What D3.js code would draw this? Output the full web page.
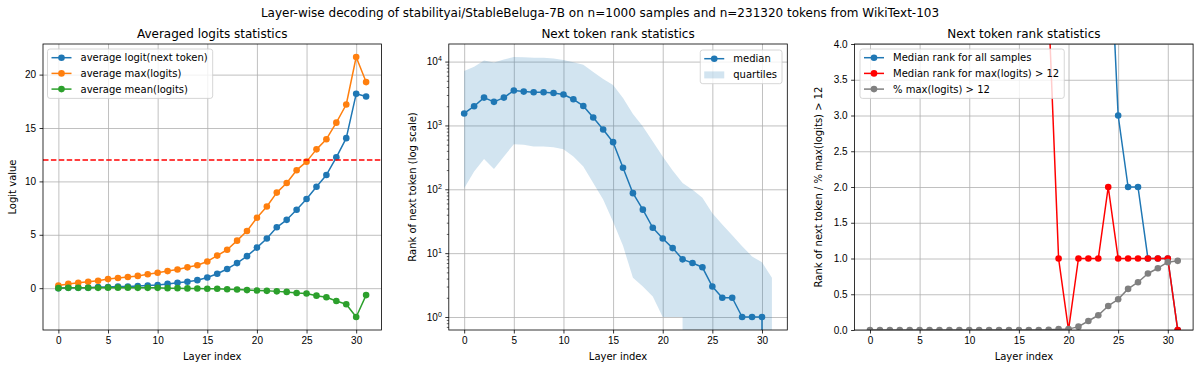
<!DOCTYPE html>
<html>
<head>
<meta charset="utf-8">
<script src="https://cdn.jsdelivr.net/npm/d3@7"></script>
<style>
    body { margin: 0; background: #fff; }
    svg { font-family: "DejaVu Sans", sans-serif; }
</style>
</head>
<body>
<div id="chart"></div>
<script>
// layer indices 0..31
const layers = d3.range(32);
const xTicks = [0, 5, 10, 15, 20, 25, 30];

// left panel: averaged logits
const avgLogitNext = [0.0, 0.05, 0.05, 0.05, 0.1, 0.1, 0.15, 0.15, 0.2, 0.25, 0.3, 0.4, 0.5, 0.6, 0.75, 1.0,
    1.35, 1.8, 2.35, 3.0, 3.8, 4.65, 5.7, 6.4, 7.35, 8.35, 9.5, 10.6, 12.25, 14.05, 18.2, 17.95];
const avgMaxLogits = [0.25, 0.4, 0.5, 0.6, 0.7, 0.85, 0.95, 1.05, 1.15, 1.3, 1.45, 1.6, 1.75, 1.95, 2.15, 2.5,
    3.05, 3.6, 4.45, 5.35, 6.6, 7.65, 8.95, 9.85, 11.05, 11.85, 13.0, 13.95, 15.5, 17.2, 21.65, 19.3];
const avgMeanLogits = [0.0, 0.03, 0.03, 0.03, 0.03, 0.05, 0.05, 0.05, 0.03, 0.03, 0.03, 0.0, 0.0, -0.02, -0.03, -0.05,
    -0.05, -0.1, -0.12, -0.18, -0.22, -0.25, -0.3, -0.35, -0.45, -0.5, -0.7, -0.85, -1.2, -1.5, -2.7, -0.65];
const logitThreshold = 12;
const leftYTicks = [0, 5, 10, 15, 20];

// middle panel: rank of next token
const medianRank = [1540, 2000, 2730, 2340, 2730, 3520, 3390, 3310, 3310, 3230, 3050, 2570, 2020, 1330, 863, 547,
    217, 87, 48, 25, 17, 12, 8, 7, 6, 3, 2, 2, 1, 1, 1, 0];
const rankQ1 = [104, 190, 298, 207, 327, 509, 500, 468, 468, 457, 425, 327, 228, 125, 69, 31,
    13, 4.1, 3, 2.1, 1, 1, 1, 0, 0, 0, 0, 0, 0, 0, 0, 0];
const rankQ3 = [7140, 8330, 10400, 9650, 10800, 11800, 11700, 11500, 11500, 11200, 10600, 9770, 8900, 6900, 5350, 4310,
    2680, 1510, 960, 560, 327, 197, 125, 98, 74, 42, 28, 19, 12.8, 8.9, 7.2, 4.1];
const midYTicks = [1, 10, 100, 1000, 10000];

// right panel: above-threshold stats
const medianRankAboveThr = [null, null, null, null, null, null, null, null, null, null, null, null, null, null, null, null,
    null, null, 4.5, 1, 0, 1, 1, 1, 2, 1, 1, 1, 1, 1, 1, 0];
const fracAboveThr = [0, 0, 0, 0, 0, 0, 0, 0, 0, 0, 0, 0, 0, 0, 0, 0,
    0, 0, 0.002, 0.012, 0.012, 0.047, 0.126, 0.206, 0.336, 0.43, 0.575, 0.668, 0.79, 0.864, 0.949, 0.967];
const rightYTicks = [0, 0.5, 1, 1.5, 2, 2.5, 3, 3.5, 4];

const colors = {
    blue: '#1f77b4',
    orange: '#ff7f0e',
    green: '#2ca02c',
    red: '#ff0000',
    gray: '#808080'
};

const W = 1200, H = 370;
const plot = { top: 44, bottom: 330, width: 338.5 };
const lefts = [43, 448.8, 854.6];

const svg = d3.select('#chart').append('svg')
    .attr('width', W)
    .attr('height', H);

// suptitle
svg.append('text')
    .attr('x', 600).attr('y', 17)
    .attr('text-anchor', 'middle')
    .attr('font-size', 12)
    .text('Layer-wise decoding of stabilityai/StableBeluga-7B on n=1000 samples and n=231320 tokens from WikiText-103');

function makeX(left) {
    const pad = 31 * 0.05;
    return d3.scaleLinear().domain([-pad, 31 + pad]).range([left, left + plot.width]);
}

function panel(idx, title, yScale, yTicks, yFmt, yLabel, labelX) {
    const left = lefts[idx];
    const x = makeX(left);
    const g = svg.append('g');

    g.append('clipPath').attr('id', `clip${idx}`)
        .append('rect')
        .attr('x', left).attr('y', plot.top)
        .attr('width', plot.width).attr('height', plot.bottom - plot.top);

    // grid
    g.append('g')
        .attr('transform', `translate(0,${plot.bottom})`)
        .call(d3.axisBottom(x).tickValues(xTicks).tickSize(-(plot.bottom - plot.top)).tickFormat(''))
        .call(s => s.select('.domain').remove())
        .call(s => s.selectAll('line').attr('stroke', '#b0b0b0').attr('stroke-width', 0.8));
    g.append('g')
        .attr('transform', `translate(${left},0)`)
        .call(d3.axisLeft(yScale).tickValues(yTicks).tickSize(-plot.width).tickFormat(''))
        .call(s => s.select('.domain').remove())
        .call(s => s.selectAll('line').attr('stroke', '#b0b0b0').attr('stroke-width', 0.8));

    // x axis
    g.append('g')
        .attr('transform', `translate(0,${plot.bottom})`)
        .call(d3.axisBottom(x).tickValues(xTicks).tickSize(3.5).tickPadding(3.5).tickFormat(d3.format('d')))
        .call(s => s.select('.domain').remove())
        .call(s => s.selectAll('line').attr('stroke', '#000').attr('stroke-width', 0.8))
        .call(s => s.selectAll('text').attr('font-size', 10).attr('fill', '#000').attr('font-family', null));

    // y axis
    const yAxisG = g.append('g')
        .attr('transform', `translate(${left},0)`)
        .call(d3.axisLeft(yScale).tickValues(yTicks).tickSize(3.5).tickPadding(3.5).tickFormat(yFmt))
        .call(s => s.select('.domain').remove())
        .call(s => s.selectAll('line').attr('stroke', '#000').attr('stroke-width', 0.8))
        .call(s => s.selectAll('text').attr('font-size', 10).attr('fill', '#000').attr('font-family', null));

    // labels
    g.append('text')
        .attr('x', left + plot.width / 2).attr('y', 360)
        .attr('text-anchor', 'middle').attr('font-size', 10)
        .text('Layer index');
    g.append('text')
        .attr('transform', `translate(${labelX},${(plot.top + plot.bottom) / 2}) rotate(-90)`)
        .attr('text-anchor', 'middle').attr('font-size', 10)
        .text(yLabel);
    g.append('text')
        .attr('x', left + plot.width / 2).attr('y', 38)
        .attr('text-anchor', 'middle').attr('font-size', 12)
        .text(title);

    const data = g.append('g').attr('clip-path', `url(#clip${idx})`);
    return { g, x, data, yAxisG, left };
}

function series(p, values, yFn, color) {
    const line = d3.line()
        .defined(i => values[i] != null)
        .x(i => p.x(i))
        .y(i => yFn(values[i]));
    const s = p.data.append('g');
    s.append('path')
        .attr('d', line(layers))
        .attr('fill', 'none')
        .attr('stroke', color)
        .attr('stroke-width', 1.5)
        .attr('stroke-linejoin', 'round');
    s.selectAll('circle')
        .data(layers.filter(i => values[i] != null))
        .enter().append('circle')
        .attr('cx', i => p.x(i))
        .attr('cy', i => yFn(values[i]))
        .attr('r', 3.3)
        .attr('fill', color);
}

function frame(p) {
    p.g.append('rect')
        .attr('x', p.left).attr('y', plot.top)
        .attr('width', plot.width).attr('height', plot.bottom - plot.top)
        .attr('fill', 'none').attr('stroke', '#000').attr('stroke-width', 0.8);
}

function legend(p, bx, by, items, alignRight) {
    const lg = p.g.append('g');
    const box = lg.append('rect');
    const rowH = 15.7;
    let maxW = 0;
    const rows = items.map((it, i) => {
        const cy = by + 8.7 + i * rowH;
        const row = lg.append('g');
        const t = row.append('text')
            .attr('x', 33).attr('y', cy).attr('dy', '0.35em')
            .attr('font-size', 10)
            .text(it.label);
        maxW = Math.max(maxW, t.node().getComputedTextLength());
        if (it.patch) {
            row.append('rect')
                .attr('x', 4).attr('y', cy - 3).attr('width', 20).attr('height', 7)
                .attr('fill', it.color).attr('fill-opacity', 0.2);
        } else {
            row.append('line')
                .attr('x1', 4).attr('x2', 24).attr('y1', cy).attr('y2', cy)
                .attr('stroke', it.color).attr('stroke-width', 1.5);
            row.append('circle')
                .attr('cx', 14).attr('cy', cy).attr('r', 3.3).attr('fill', it.color);
        }
        return row;
    });
    const w = 33 + maxW + 5;
    const h = 17 + (items.length - 1) * rowH + 1;
    const x0 = alignRight ? bx - w : bx;
    rows.forEach(r => r.attr('transform', `translate(${x0},0)`));
    box.attr('x', x0).attr('y', by).attr('width', w).attr('height', h)
        .attr('rx', 2.5)
        .attr('fill', '#fff').attr('fill-opacity', 0.8)
        .attr('stroke', '#cccccc').attr('stroke-width', 0.8);
}

// ---- left panel
{
    const all = avgLogitNext.concat(avgMaxLogits, avgMeanLogits);
    const [lo, hi] = d3.extent(all);
    const pad = (hi - lo) * 0.05;
    const y = d3.scaleLinear().domain([lo - pad, hi + pad]).range([plot.bottom, plot.top]);
    const p = panel(0, 'Averaged logits statistics', y, leftYTicks, d3.format('d'), 'Logit value', 16);
    series(p, avgLogitNext, y, colors.blue);
    series(p, avgMaxLogits, y, colors.orange);
    series(p, avgMeanLogits, y, colors.green);
    p.data.append('line')
        .attr('x1', p.left).attr('x2', p.left + plot.width)
        .attr('y1', y(logitThreshold)).attr('y2', y(logitThreshold))
        .attr('stroke', colors.red).attr('stroke-width', 1.5)
        .attr('stroke-dasharray', '5.5,2.4');
    frame(p);
    legend(p, 47.5, 49, [
        { label: 'average logit(next token)', color: colors.blue },
        { label: 'average max(logits)', color: colors.orange },
        { label: 'average mean(logits)', color: colors.green }
    ], false);
}

// ---- middle panel (log scale)
{
    const pos = medianRank.concat(rankQ1, rankQ3).filter(v => v > 0);
    const lo = Math.log10(d3.min(pos)), hi = Math.log10(d3.max(pos));
    const pad = (hi - lo) * 0.05;
    const y = d3.scaleLog().domain([Math.pow(10, lo - pad), Math.pow(10, hi + pad)]).range([plot.bottom, plot.top]);
    // non-positive values are clipped far below the axes, like matplotlib does
    const yc = v => v > 0 ? y(v) : plot.bottom + 20000;
    const p = panel(1, 'Next token rank statistics', y, midYTicks, d => '', 'Rank of next token (log scale)', 416);

    // superscript tick labels
    p.yAxisG.selectAll('.tick text').each(function (d) {
        const t = d3.select(this);
        t.text('');
        t.append('tspan').text('10');
        t.append('tspan').attr('dy', '-0.55em').attr('font-size', 7).text(Math.round(Math.log10(d)));
    });
    // minor ticks
    const minor = [];
    for (let e = -1; e <= 4; e++) {
        for (let m = 2; m <= 9; m++) {
            const v = m * Math.pow(10, e);
            if (v >= y.domain()[0] && v <= y.domain()[1]) minor.push(v);
        }
    }
    p.g.append('g')
        .attr('transform', `translate(${p.left},0)`)
        .call(d3.axisLeft(y).tickValues(minor).tickSize(2).tickFormat(''))
        .call(s => s.select('.domain').remove())
        .call(s => s.selectAll('line').attr('stroke', '#000').attr('stroke-width', 0.6));

    const area = d3.area()
        .x(i => p.x(i))
        .y0(i => yc(rankQ1[i]))
        .y1(i => yc(rankQ3[i]));
    p.data.append('path')
        .attr('d', area(layers))
        .attr('fill', colors.blue).attr('fill-opacity', 0.2);
    series(p, medianRank, yc, colors.blue);
    frame(p);
    legend(p, 782, 50, [
        { label: 'median', color: colors.blue },
        { label: 'quartiles', color: colors.blue, patch: true }
    ], true);
}

// ---- right panel
{
    const y = d3.scaleLinear().domain([0, 4]).range([plot.bottom, plot.top]);
    const p = panel(2, 'Next token rank statistics', y, rightYTicks, d3.format('.1f'),
        'Rank of next token / % max(logits) > 12', 822);
    series(p, medianRank, y, colors.blue);
    series(p, medianRankAboveThr, y, colors.red);
    series(p, fracAboveThr, y, colors.gray);
    frame(p);
    legend(p, 860, 49, [
        { label: 'Median rank for all samples', color: colors.blue },
        { label: 'Median rank for max(logits) > 12', color: colors.red },
        { label: '% max(logits) > 12', color: colors.gray }
    ], false);
}
</script>
</body>
</html>
